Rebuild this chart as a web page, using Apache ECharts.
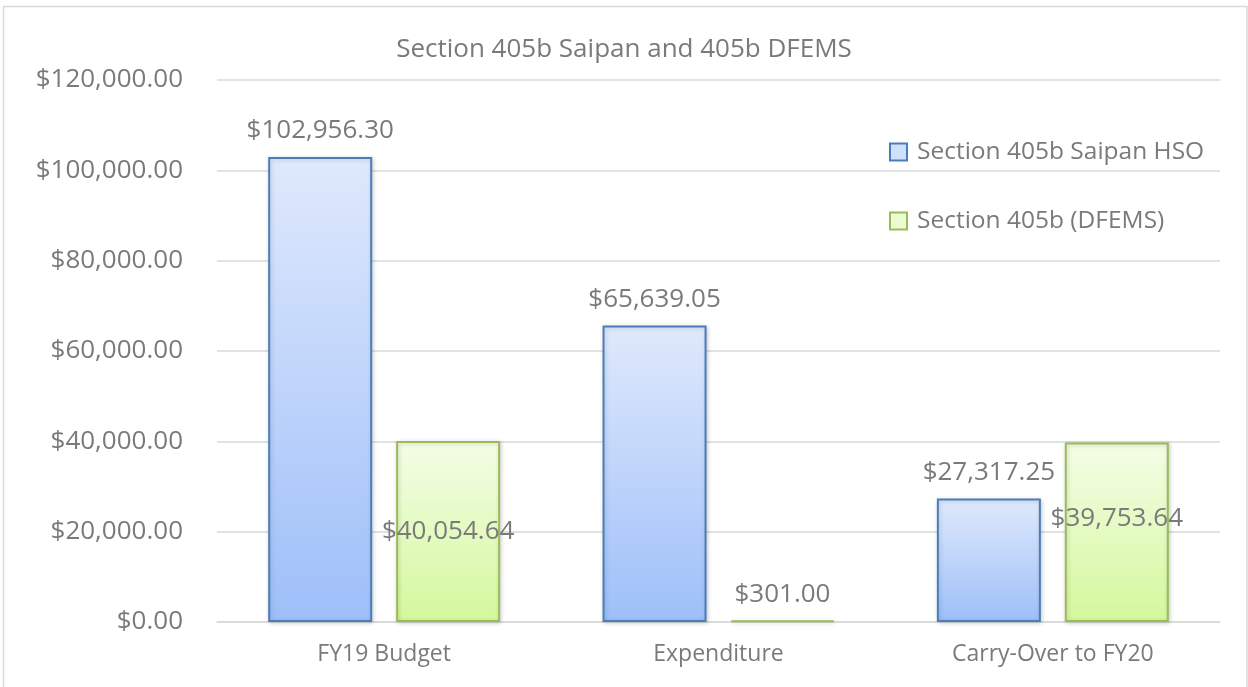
<!DOCTYPE html>
<html>
<head>
<meta charset="utf-8">
<script src="https://cdn.jsdelivr.net/npm/echarts@6/dist/echarts.min.js"></script>
<style>
html,body{margin:0;padding:0;background:#fff;}
#chart{width:1248px;height:687px;}
</style>
</head>
<body>
<div id="chart"></div>
<script>
const categories = ['FY19 Budget', 'Expenditure', 'Carry-Over to FY20'];
const seriesNames = ['Section 405b Saipan HSO', 'Section 405b (DFEMS)'];
const hsoValues = [102956.30, 65639.05, 27317.25];
const dfemsValues = [40054.64, 301.00, 39753.64];
const yTicks = { min: 0, max: 120000, interval: 20000 };
const titleText = 'Section 405b Saipan and 405b DFEMS';

const TXT = '#7a7a7a';
const FONT = '"Open Sans", "Noto Sans", sans-serif';

function money(v) {
  return '$' + v.toLocaleString('en-US', { minimumFractionDigits: 2, maximumFractionDigits: 2 });
}

const blueFill = new echarts.graphic.LinearGradient(0, 0, 0, 1, [
  { offset: 0, color: '#dfe9fc' }, { offset: 1, color: '#9dbff9' }
]);
const greenFill = new echarts.graphic.LinearGradient(0, 0, 0, 1, [
  { offset: 0, color: '#f4fde7' }, { offset: 1, color: '#d4f89c' }
]);

const labelBase = { show: true, color: TXT, fontFamily: FONT, fontSize: 26, formatter: p => money(p.value) };

const chart = echarts.init(document.getElementById('chart'), null, { renderer: 'canvas' });
chart.setOption({
  animation: false,
  backgroundColor: '#ffffff',
  title: {
    text: titleText,
    left: 'center',
    top: 29,
    textStyle: { color: TXT, fontFamily: FONT, fontSize: 26, fontWeight: 'normal', lineHeight: 32 }
  },
  legend: {
    orient: 'vertical',
    left: 884,
    top: 132,
    itemWidth: 17,
    itemHeight: 17,
    itemGap: 39,
    icon: 'rect',
    textStyle: { color: TXT, fontFamily: FONT, fontSize: 24.5, lineHeight: 30, padding: [0, 0, 0, 5] },
    data: [
      { name: seriesNames[0], itemStyle: { color: '#cfe0fb', borderColor: '#4a7ebb', borderWidth: 2 } },
      { name: seriesNames[1], itemStyle: { color: '#eafcd0', borderColor: '#9bbb59', borderWidth: 2 } }
    ]
  },
  grid: { left: 217, right: 28, top: 80, bottom: 65, containLabel: false },
  xAxis: {
    type: 'category',
    data: categories,
    axisTick: { show: false },
    axisLine: { show: true, lineStyle: { color: '#d9d9d9', width: 1.5 } },
    axisLabel: { color: TXT, fontFamily: FONT, fontSize: 23, margin: 21 }
  },
  yAxis: {
    type: 'value',
    min: yTicks.min,
    max: yTicks.max,
    interval: yTicks.interval,
    axisLine: { show: false },
    axisTick: { show: false },
    splitLine: { lineStyle: { color: '#d9d9d9', width: 1.5 } },
    axisLabel: { color: TXT, fontFamily: FONT, fontSize: 26, margin: 34, formatter: v => money(v) }
  },
  series: [
    {
      name: seriesNames[0],
      type: 'bar',
      barWidth: 104,
      barGap: '23%',
      data: hsoValues,
      itemStyle: { color: blueFill, borderColor: '#4a7ebb', borderWidth: 2,
        shadowColor: 'rgba(0,0,0,0.18)', shadowBlur: 4, shadowOffsetX: 1, shadowOffsetY: 1 },
      label: Object.assign({}, labelBase, { position: 'top', distance: 13 })
    },
    {
      name: seriesNames[1],
      type: 'bar',
      barWidth: 104,
      data: dfemsValues.map((v, i) => {
        if (i === 1) return { value: v, label: { position: 'top', distance: 13 } };
        if (i === 2) return { value: v, label: { position: 'inside', offset: [0, -14] } };
        return { value: v, label: { position: 'inside' } };
      }),
      itemStyle: { color: greenFill, borderColor: '#9bbb59', borderWidth: 2,
        shadowColor: 'rgba(0,0,0,0.18)', shadowBlur: 4, shadowOffsetX: 1, shadowOffsetY: 1 },
      label: Object.assign({}, labelBase, { position: 'inside' })
    }
  ],
  graphic: [
    { type: 'rect', silent: true, z: -1,
      shape: { x: 3.5, y: 6.5, width: 1243.5, height: 700 },
      style: { fill: null, stroke: '#d9d9d9', lineWidth: 1.5 } }
  ]
});
</script>
</body>
</html>
